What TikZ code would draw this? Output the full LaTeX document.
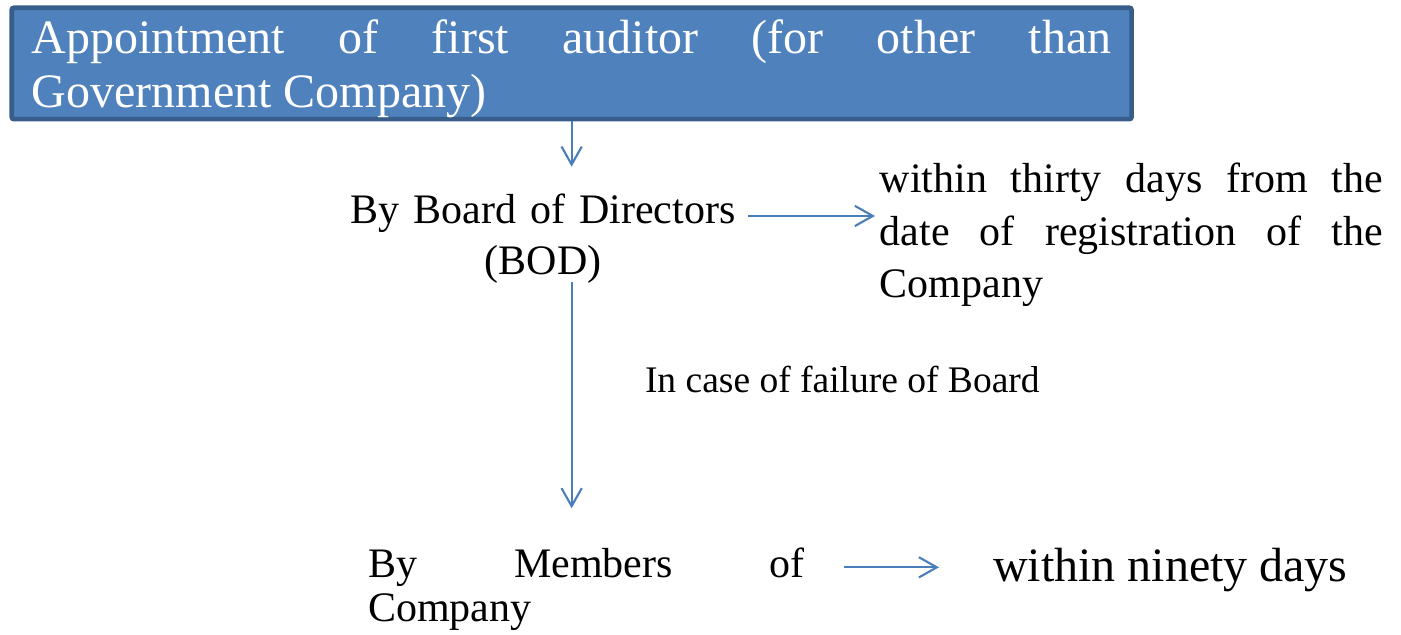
\documentclass[tikz,border=0pt]{standalone}
\usepackage{fontspec}
\setmainfont{Liberation Serif}
\usepackage{tikz}
\usetikzlibrary{arrows.meta}

\definecolor{boxblue}{HTML}{4F81BD}
\definecolor{boxedge}{HTML}{385D8A}
\definecolor{flowblue}{HTML}{4A7EBB}

\begin{document}
\begin{tikzpicture}[x=0.6667pt,y=-0.6667pt,
  titlebox/.style={draw=boxedge,fill=boxblue,line width=3.1pt,rounded corners=1.5pt,text=white,
    font=\fontsize{32}{36}\selectfont,align=justify,text width=719.6pt,
    inner xsep=13.5pt,inner ysep=0pt,text height=30.4pt,text depth=43.9pt},
  plain/.style={inner ysep=0pt,outer sep=0pt},
  flow/.style={flowblue,line width=1.4pt,-{Straight Barb[length=12pt,width=13.5pt]}}]

\useasboundingbox (0,0) rectangle (1401,635);

% top box
\node[titlebox,anchor=north west] (title) at (9.4,5.4)
  {Appointment of first auditor (for other than\linebreak Government Company)};

% board
\node[plain,anchor=base,align=center,text width=270pt,inner xsep=1.7pt,font=\fontsize{28}{34}\selectfont,
  text height=38.2pt,text depth=27.5pt] (bod) at (543,224) {\mbox{By Board of Directors}\\(BOD)};
\node[plain,anchor=base west,align=justify,text width=335.3pt,inner xsep=3.3pt,
  font=\fontsize{28}{34.7}\selectfont] (days30) at (875,193)
  {within thirty days from the\linebreak date of registration of the\linebreak Company};

\node[plain,anchor=base west,inner xsep=0pt,font=\fontsize{25}{30}\selectfont] (failnote) at (645,393)
  {In case of failure of Board};

% members
\node[plain,anchor=base west,align=justify,text width=291.3pt,inner xsep=26pt,
  font=\fontsize{28}{30}\selectfont,text height=45.8pt,text depth=32.9pt] (members) at (329,577)
  {By Members of\linebreak Company};
\node[plain,anchor=base west,inner xsep=36pt,font=\fontsize{32}{38}\selectfont] (days90) at (939,581.7)
  {within ninety days};

\draw[flow] (title.south) -- (title.south |- bod.north);
\draw[flow] (bod.east) -- (days30.west |- bod.east);
\draw[flow,shorten <=10.9pt] (title.south |- bod.south) -- (title.south |- members.north);
\draw[flow] (members.east) -- (days90.west |- members.east);

\end{tikzpicture}
\end{document}
